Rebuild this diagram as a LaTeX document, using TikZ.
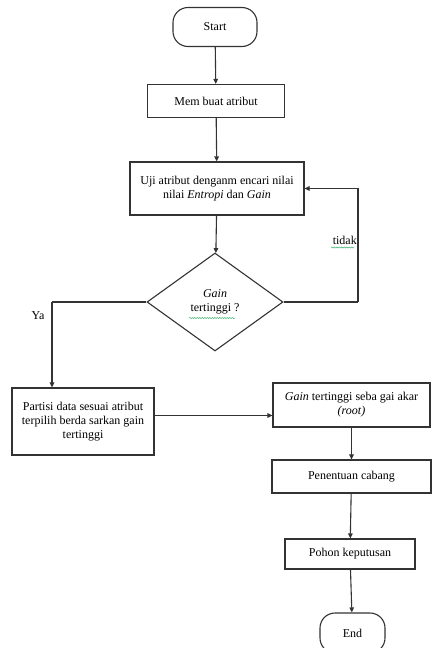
\documentclass[tikz,border=0pt]{standalone}
\usepackage{fontspec}
\setmainfont{Liberation Serif}
\usetikzlibrary{shapes.geometric,arrows.meta,decorations.pathmorphing}
\definecolor{linec}{HTML}{333333}
\definecolor{spell}{HTML}{3CB371}
\begin{document}
\begin{tikzpicture}[x=1pt,y=-1pt,
  every node/.style={font=\fontsize{12}{14}\selectfont, text=black},
  box/.style={draw=linec, line width=1.1pt, rectangle, inner sep=1pt, align=center},
  term/.style={box, rounded corners=15pt},
  decision/.style={draw=linec, line width=1.1pt, diamond, inner sep=0pt, align=center, aspect=1.39},
  arr/.style={draw=linec, line width=1.1pt, -{Triangle[length=5pt,width=4.5pt]}},
  ln/.style={draw=linec, line width=1.1pt},
  squig/.style={draw=spell, line width=0.5pt, decorate, decoration={snake, amplitude=0.6pt, segment length=2.5pt}}]
\useasboundingbox (0,0) rectangle (432,648);
\fill[white] (0,0) rectangle (432,648);

\node[term, minimum width=84pt, minimum height=39pt] (start) at (215,27) {Start};
\node[box, minimum width=137pt, minimum height=33pt] (mem) at (216,101) {Mem buat atribut};
\node[box, minimum width=174pt, minimum height=53pt] (uji) at (217,188.5) {Uji atribut denganm encari nilai\\nilai \textit{Entropi} dan \textit{Gain}};
\node[decision, minimum width=136pt, minimum height=98pt] (dia) at (215,302) {\textit{Gain}\\tertinggi ?};
\node[box, minimum width=142pt, minimum height=67pt] (part) at (83,421.5) {Partisi data sesuai atribut\\terpilih berda sarkan gain\\tertinggi};
\node[box, minimum width=157pt, minimum height=44pt] (root) at (351.5,405) {\textit{Gain} tertinggi seba gai akar\\\textit{(root)}};
\node[box, minimum width=159pt, minimum height=33pt] (pen) at (351.5,476.5) {Penentuan cabang};
\node[box, minimum width=130pt, minimum height=30pt] (poh) at (350,554) {Pohon keputusan};
\node[term, minimum width=65pt, minimum height=40pt] (end) at (352.5,633) {End};

\node[anchor=east, inner sep=0pt] (tidak) at (357,240) {tidak};
\node[inner sep=0pt] (ya) at (38,316) {Ya};

\coordinate (fbR) at (358,302);
\coordinate (yaL) at (52,302);

\draw[arr] (start) -- (mem);
\draw[arr] (mem) -- (uji);
\draw[arr] (uji) -- (dia);
\draw[ln] (dia.east) -- (fbR);
\draw[arr] (fbR) |- (uji.east);
\draw[ln] (dia.west) -- (yaL);
\draw[arr] (yaL) -- (yaL |- part.north);
\draw[arr] ([yshift=6pt]part.east) -- ([yshift=6pt]part.east -| root.west);
\draw[arr] (root) -- (pen);
\draw[arr] (pen) -- (poh);
\draw[arr] (poh) -- (end);

\draw[squig] (331,247.5) -- (354,247.5);
\draw[squig] (189,318) -- (235,318);
\end{tikzpicture}
\end{document}
